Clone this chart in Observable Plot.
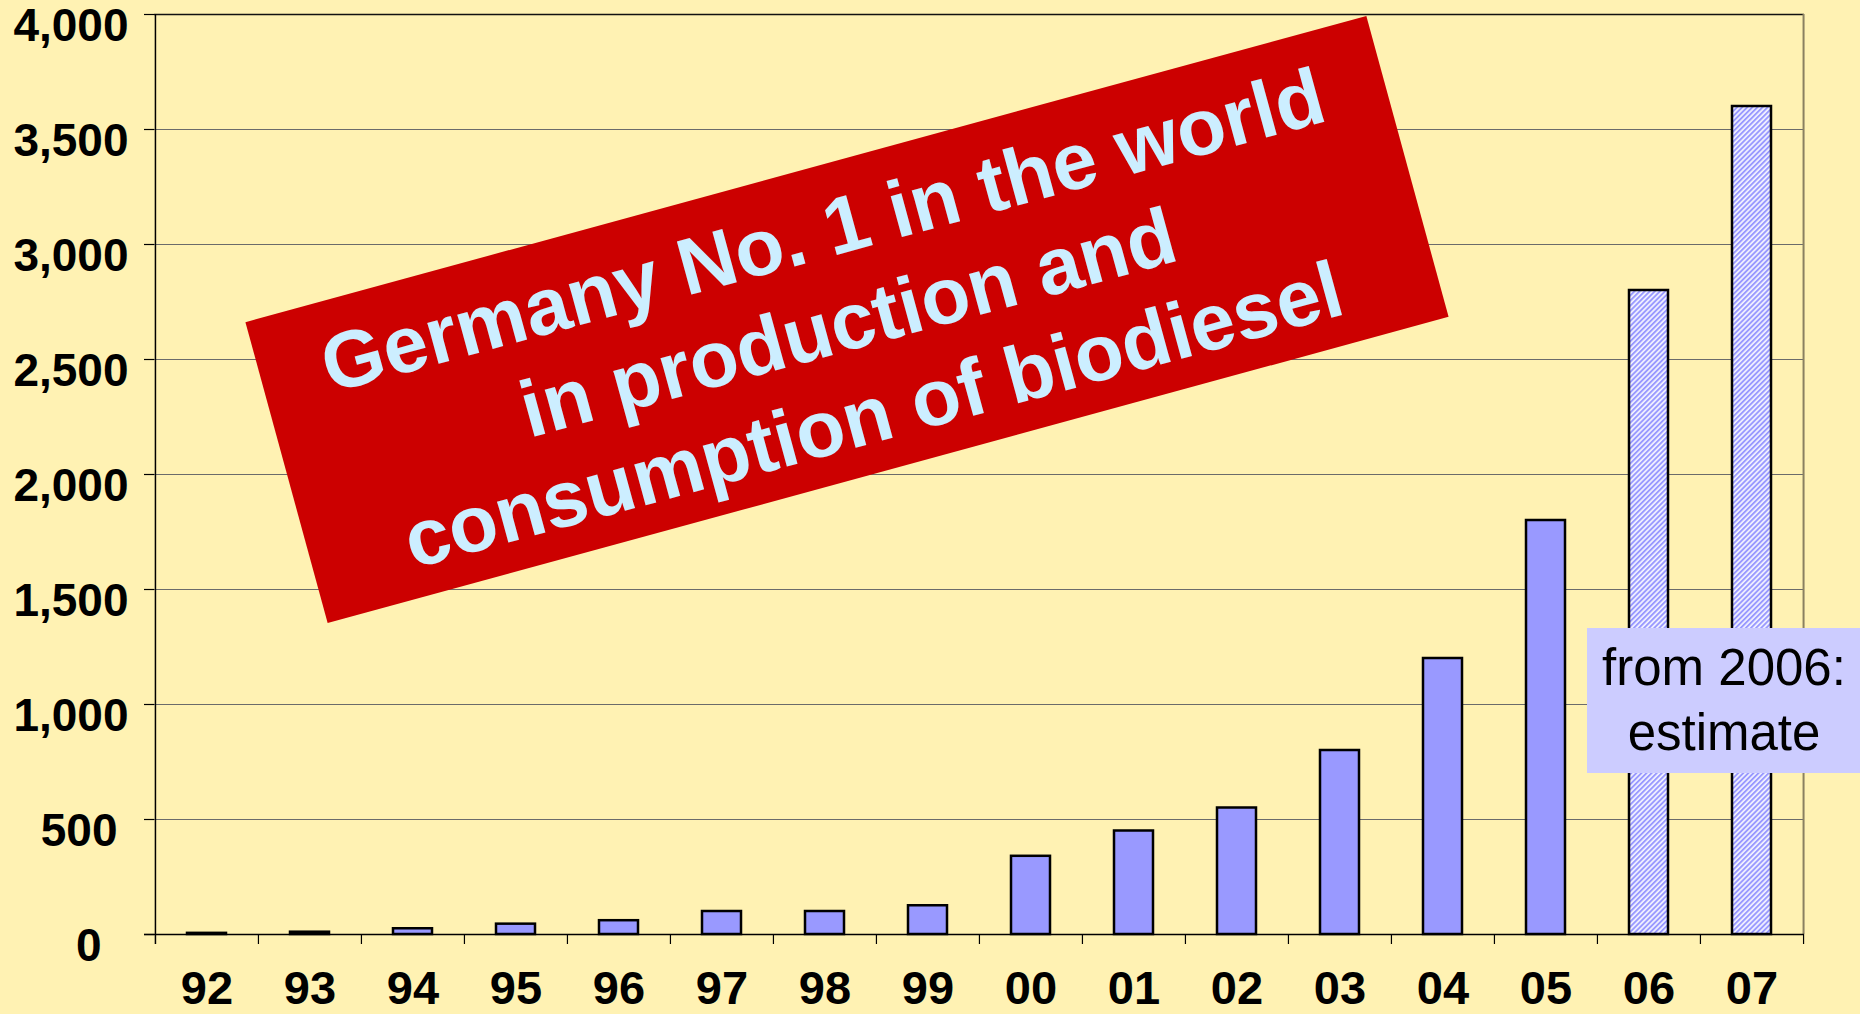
<!DOCTYPE html>
<html><head><meta charset="utf-8">
<script src="https://cdn.jsdelivr.net/npm/d3@7"></script>
<script src="https://cdn.jsdelivr.net/npm/@observablehq/plot@0.6"></script>
<style>
html,body{margin:0;padding:0;background:#fff2b3;}
#chart{position:relative;width:1860px;height:1014px;overflow:hidden;}
svg{display:block;}
</style></head><body><div id="chart"></div>
<script>
// ---- data ----
const years = ["92","93","94","95","96","97","98","99","00","01","02","03","04","05","06","07"];
const values = [5, 10, 25, 45, 60, 100, 100, 125, 340, 450, 550, 800, 1200, 1800, 2800, 3600];
const estimateYears = ["06","07"];
const yTicks = [0, 500, 1000, 1500, 2000, 2500, 3000, 3500, 4000];
const bannerLines = ["Germany No. 1 in the world", "in production and", "consumption of biodiesel"];
const noteLines = ["from 2006:", "estimate"];

const data = years.map((year, i) => ({year, value: values[i], estimate: estimateYears.includes(year)}));

const W = 1860, H = 1014, mL = 154, mR = 56, mT = 14, mB = 80;
const step = (W - mL - mR) / years.length;
const font = '"Liberation Sans", Arial, Helvetica, sans-serif';
const last = years[years.length - 1];
const fmt = d3.format(",");
const yLabelStyle = {y: d => d, text: d => fmt(d), frameAnchor: "left", textAnchor: "end",
  dy: 12, fontSize: 46, fontWeight: "bold", fill: "#000"};

const plot = Plot.plot({
  width: W, height: H,
  marginLeft: mL, marginRight: mR, marginTop: mT, marginBottom: mB,
  style: {background: "#fff2b3", fontFamily: font, color: "#000", overflow: "visible"},
  x: {type: "band", domain: years, paddingInner: 0.62, paddingOuter: 0.31, label: null},
  y: {domain: [0, 4000], label: null},
  marks: [
    Plot.ruleY(yTicks.filter(d => d > 0 && d < 4000), {stroke: "#6b6b6b", strokeWidth: 1}),
    Plot.ruleY([4000], {stroke: "#111", strokeWidth: 1.5}),
    Plot.ruleX([last], {dx: step / 2, y1: 0, y2: 4000, stroke: "#8a8060", strokeWidth: 2}),
    Plot.barY(data.filter(d => !d.estimate), {x: "year", y: "value", fill: "#9999ff", stroke: "#000", strokeWidth: 2.5}),
    Plot.barY(data.filter(d => d.estimate), {x: "year", y: "value", fill: "url(#hatch)", stroke: "#000", strokeWidth: 2.5}),
    Plot.ruleY([0], {stroke: "#000", strokeWidth: 1.5, insetLeft: -10}),
    Plot.ruleX([years[0]], {dx: -step / 2, y1: 4000, y2: 0, insetBottom: -10, stroke: "#000", strokeWidth: 1.5}),
    Plot.ruleX(years.slice(1), {dx: -step / 2, y1: 0, y2: 0, insetBottom: -10, stroke: "#000", strokeWidth: 1.2}),
    Plot.ruleX([last], {dx: step / 2, y1: 0, y2: 0, insetBottom: -10, stroke: "#000", strokeWidth: 1.2}),
    Plot.axisY(yTicks, {tickSize: 10, fill: "none", stroke: "#000", strokeWidth: 1.2}),
    Plot.text(yTicks.filter(d => d >= 1000), {...yLabelStyle, dx: -26}),
    Plot.text(yTicks.filter(d => d > 0 && d < 1000), {...yLabelStyle, dx: -37}),
    Plot.text(yTicks.filter(d => d === 0), {...yLabelStyle, dx: -53}),
    Plot.axisX({tickSize: 0, tickPadding: 36, fontSize: 47, fontWeight: "bold", fill: "#000"})
  ]
});

const svg = d3.select(plot);
const defs = svg.insert("defs", ":first-child");
const pat = defs.append("pattern").attr("id", "hatch")
  .attr("patternUnits", "userSpaceOnUse").attr("width", 3.6).attr("height", 3.6)
  .attr("patternTransform", "rotate(45)");
pat.append("rect").attr("width", 3.6).attr("height", 3.6).attr("fill", "#f2f2ff");
pat.append("rect").attr("width", 1.9).attr("height", 3.6).attr("fill", "#9999ff");

// banner
const g = svg.append("g").attr("transform", "translate(847,319.5) rotate(-15.28)");
g.append("rect").attr("x", -581).attr("y", -156).attr("width", 1162).attr("height", 312).attr("fill", "#cc0000");
g.append("text").attr("text-anchor", "middle").attr("font-family", font).attr("font-weight", "bold")
  .attr("font-size", 80).attr("fill", "#cceeff")
  .selectAll("tspan").data(bannerLines).join("tspan")
  .attr("x", 0).attr("y", (d, i) => -65 + i * 95.5).text(d => d);

// estimate note
const n = svg.append("g");
n.append("rect").attr("x", 1587).attr("y", 628).attr("width", 280).attr("height", 145).attr("fill", "#ccccff");
n.append("text").attr("text-anchor", "middle").attr("font-family", font).attr("font-size", 51).attr("fill", "#000")
  .selectAll("tspan").data(noteLines).join("tspan")
  .attr("x", 1724).attr("y", (d, i) => 685 + i * 65).text(d => d);

document.getElementById("chart").appendChild(plot);
</script></body></html>
